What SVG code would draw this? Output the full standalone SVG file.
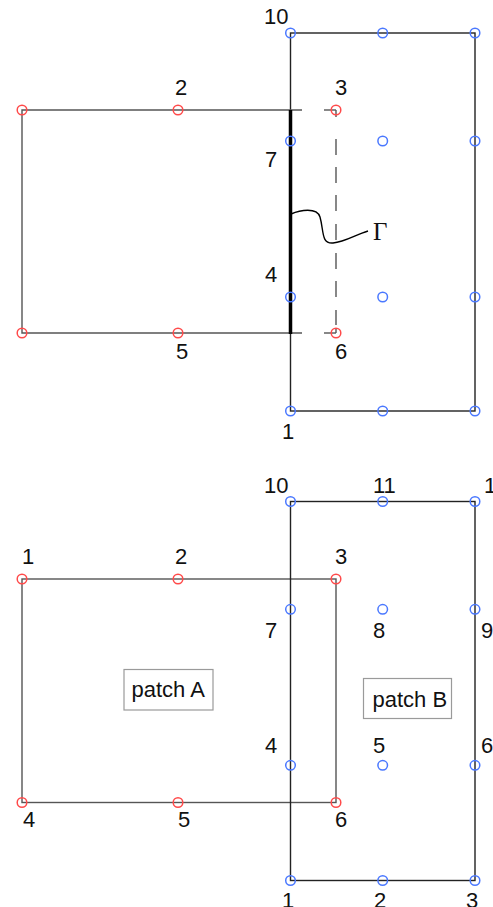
<svg xmlns="http://www.w3.org/2000/svg" width="493" height="907" viewBox="0 0 493 907">
  <style>
    .bg { fill: #ffffff; }
    .edgeA { fill: none; stroke: #555555; stroke-width: 1.4; }
    .edgeB { fill: none; stroke: #222222; stroke-width: 1.4; }
    .iface { fill: none; stroke: #000000; stroke-width: 3.5; }
    .curve { fill: none; stroke: #000000; stroke-width: 1.4; }
    .ptA { fill: none; stroke: #ff4a4a; stroke-width: 1.5; }
    .ptB { fill: none; stroke: #4a78ff; stroke-width: 1.5; }
    .lbl { font-family: "Liberation Sans", Arial, sans-serif; font-size: 22px; fill: #111111; }
    .greek { font-family: "Liberation Serif", "Times New Roman", serif; font-size: 25px; fill: #111111; }
    .box { fill: #ffffff; stroke: #9a9a9a; stroke-width: 1.2; }
  </style>
  <defs>
    <circle id="dotA" r="4.8" class="ptA"/>
    <circle id="dotB" r="4.8" class="ptB"/>
  </defs>
  <rect class="bg" x="0" y="0" width="493" height="907"/>

  <!-- ===== Upper figure: overlapping patches with interface curve ===== -->
  <g id="upper-connectors">
    <!-- patch B outline -->
    <rect class="edgeB" x="290.5" y="33" width="184.5" height="378"/>
    <!-- patch A outline, solid part -->
    <polyline class="edgeA" points="302,110 22,110 22,333 302,333"/>
    <!-- patch A outline, dashed part inside patch B -->
    <g class="edgeA">
      <line x1="324" y1="110" x2="336" y2="110"/>
      <line x1="324" y1="333" x2="336" y2="333"/>
      <line x1="336" y1="110" x2="336" y2="117"/>
      <line x1="336" y1="139" x2="336" y2="155"/>
      <line x1="336" y1="167" x2="336" y2="183"/>
      <line x1="336" y1="195" x2="336" y2="211"/>
      <line x1="336" y1="224" x2="336" y2="240"/>
      <line x1="336" y1="253" x2="336" y2="269"/>
      <line x1="336" y1="281" x2="336" y2="297"/>
      <line x1="336" y1="310" x2="336" y2="325"/>
      <line x1="336" y1="329" x2="336" y2="333"/>
    </g>
    <!-- interface segment -->
    <line class="iface" x1="290.5" y1="110" x2="290.5" y2="334"/>
    <!-- pointer to interface label -->
    <path class="curve" d="M291,214 C300,210 317,207 320,217 C324,231 321,244 333,243 C345,242 355,235 368,231"/>
  </g>

  <g id="upper-patchA-points">
    <use href="#dotA" x="22" y="110"/>
    <use href="#dotA" x="178" y="110"/>
    <use href="#dotA" x="336" y="110"/>
    <use href="#dotA" x="22" y="333"/>
    <use href="#dotA" x="178" y="333"/>
    <use href="#dotA" x="336" y="333"/>
  </g>
  <g id="upper-patchB-points">
    <use href="#dotB" x="290.5" y="33"/>
    <use href="#dotB" x="382.7" y="33"/>
    <use href="#dotB" x="475" y="33"/>
    <use href="#dotB" x="290.5" y="141"/>
    <use href="#dotB" x="382.7" y="141"/>
    <use href="#dotB" x="475" y="141"/>
    <use href="#dotB" x="290.5" y="297"/>
    <use href="#dotB" x="382.7" y="297"/>
    <use href="#dotB" x="475" y="297"/>
    <use href="#dotB" x="290.5" y="411"/>
    <use href="#dotB" x="382.7" y="411"/>
    <use href="#dotB" x="475" y="411"/>
  </g>
  <g id="upper-labels">
    <text class="lbl" x="264" y="24">10</text>
    <text class="lbl" x="175" y="95">2</text>
    <text class="lbl" x="335" y="95">3</text>
    <text class="lbl" x="265" y="167">7</text>
    <text class="lbl" x="265" y="282">4</text>
    <text class="lbl" x="176" y="359">5</text>
    <text class="lbl" x="335" y="359">6</text>
    <text class="lbl" x="282" y="439">1</text>
    <text class="greek" x="373" y="240">Γ</text>
  </g>

  <!-- ===== Lower figure: the two patches with local numbering ===== -->
  <g id="lower-connectors">
    <rect class="edgeA" x="22" y="579" width="314" height="223.5"/>
    <rect class="edgeB" x="290.5" y="501.5" width="184.5" height="379"/>
  </g>

  <g id="lower-patchA-points">
    <use href="#dotA" x="22" y="579"/>
    <use href="#dotA" x="178" y="579"/>
    <use href="#dotA" x="336" y="579"/>
    <use href="#dotA" x="22" y="802.5"/>
    <use href="#dotA" x="178" y="802.5"/>
    <use href="#dotA" x="336" y="802.5"/>
  </g>
  <g id="lower-patchB-points">
    <use href="#dotB" x="290.5" y="501.5"/>
    <use href="#dotB" x="382.7" y="501.5"/>
    <use href="#dotB" x="475" y="501.5"/>
    <use href="#dotB" x="290.5" y="609.3"/>
    <use href="#dotB" x="382.7" y="609.3"/>
    <use href="#dotB" x="475" y="609.3"/>
    <use href="#dotB" x="290.5" y="765.3"/>
    <use href="#dotB" x="382.7" y="765.3"/>
    <use href="#dotB" x="475" y="765.3"/>
    <use href="#dotB" x="290.5" y="880.5"/>
    <use href="#dotB" x="382.7" y="880.5"/>
    <use href="#dotB" x="475" y="880.5"/>
  </g>
  <g id="lower-labels">
    <text class="lbl" x="264" y="493">10</text>
    <text class="lbl" x="373" y="493">11</text>
    <text class="lbl" x="484" y="493">1</text>
    <text class="lbl" x="22" y="564">1</text>
    <text class="lbl" x="175" y="564">2</text>
    <text class="lbl" x="335" y="564">3</text>
    <text class="lbl" x="265" y="638">7</text>
    <text class="lbl" x="373" y="638">8</text>
    <text class="lbl" x="481" y="638">9</text>
    <text class="lbl" x="265" y="753">4</text>
    <text class="lbl" x="373" y="753">5</text>
    <text class="lbl" x="481" y="753">6</text>
    <text class="lbl" x="23" y="827">4</text>
    <text class="lbl" x="178" y="827">5</text>
    <text class="lbl" x="335" y="827">6</text>
    <text class="lbl" x="282" y="908">1</text>
    <text class="lbl" x="374" y="908">2</text>
    <text class="lbl" x="466" y="908">3</text>
  </g>

  <g id="patchA-tag">
    <rect class="box" x="124" y="669.5" width="89" height="40.5"/>
    <text class="lbl" x="131.5" y="697">patch A</text>
  </g>
  <g id="patchB-tag">
    <rect class="box" x="363.5" y="678.5" width="88" height="40"/>
    <text class="lbl" x="372.5" y="706.5">patch B</text>
  </g>
</svg>
